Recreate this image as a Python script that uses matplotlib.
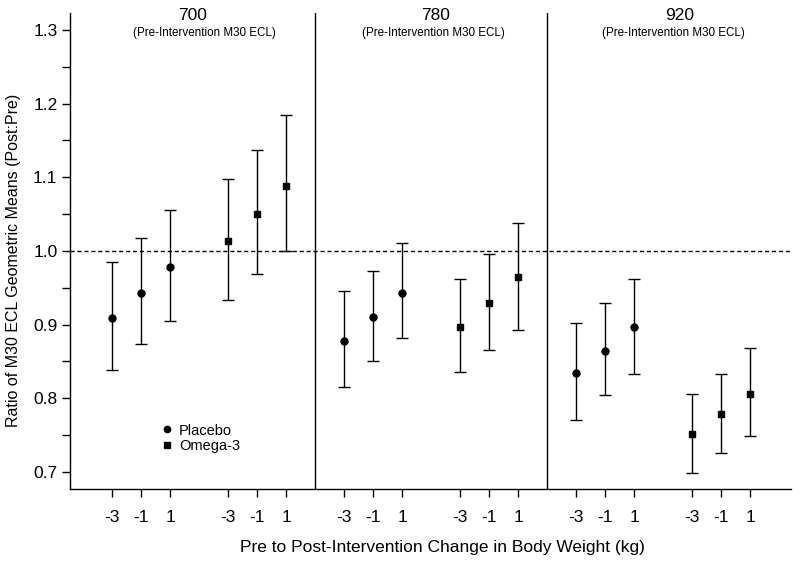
import numpy as np
import matplotlib.pyplot as plt
from matplotlib.lines import Line2D

plt.rcParams['font.family'] = ['Liberation Sans', 'DejaVu Sans']

# data
panels = ['700', '780', '920']
weight_change = ['-3', '-1', '1']

placebo_mean = [[0.909, 0.943, 0.978], [0.878, 0.910, 0.943], [0.834, 0.864, 0.896]]
placebo_low = [[0.838, 0.874, 0.905], [0.815, 0.851, 0.881], [0.770, 0.804, 0.833]]
placebo_high = [[0.985, 1.017, 1.055], [0.945, 0.973, 1.010], [0.902, 0.929, 0.962]]

omega_mean = [[1.013, 1.050, 1.088], [0.897, 0.929, 0.964], [0.751, 0.778, 0.806]]
omega_low = [[0.933, 0.969, 1.000], [0.835, 0.866, 0.893], [0.699, 0.726, 0.749]]
omega_high = [[1.098, 1.137, 1.185], [0.962, 0.996, 1.038], [0.805, 0.833, 0.868]]

fig = plt.figure(figsize=(8, 5.65), dpi=100)
ax = fig.add_axes([0.0875, 0.135, 0.9015, 0.842])

ticks = []
ticklabels = []
for p in range(3):
    base = p * 8
    xp = np.array([1, 2, 3]) + base
    xo = np.array([5, 6, 7]) + base
    pm = np.array(placebo_mean[p])
    om = np.array(omega_mean[p])
    ax.errorbar(xp, pm, yerr=[pm - np.array(placebo_low[p]), np.array(placebo_high[p]) - pm],
                fmt='o', color='black', ms=5, capsize=4, elinewidth=1, capthick=1)
    ax.errorbar(xo, om, yerr=[om - np.array(omega_low[p]), np.array(omega_high[p]) - om],
                fmt='s', color='black', ms=4.6, capsize=4, elinewidth=1, capthick=1)
    ticks += list(xp) + list(xo)
    ticklabels += weight_change * 2

# separators and reference line
ax.axvline(8, color='black', lw=1)
ax.axvline(16, color='black', lw=1)
ax.axhline(1.0, color='black', lw=1, linestyle=(0, (3, 2)))

# panel titles
title_x = [3.76, 12.14, 20.55]
sub_x = [4.17, 12.07, 20.34]
for i, name in enumerate(panels):
    ax.text(title_x[i], 1.320, name, ha='center', va='center', fontsize=12.5)
    ax.text(sub_x[i], 1.296, '(Pre-Intervention M30 ECL)', ha='center', va='center', fontsize=8.4)

ax.set_xlim(-0.45, 24.41)
ax.set_ylim(0.677, 1.323)
ax.set_xticks(ticks)
ax.set_xticklabels(ticklabels, fontsize=12.5)
ax.set_yticks([0.7, 0.8, 0.9, 1.0, 1.1, 1.2, 1.3])
ax.set_yticklabels(['0.7', '0.8', '0.9', '1.0', '1.1', '1.2', '1.3'], fontsize=12.5)
ax.set_yticks([0.75, 0.85, 0.95, 1.05, 1.15, 1.25], minor=True)
ax.tick_params(axis='both', which='both', direction='out', length=6, width=1)
ax.tick_params(axis='x', pad=9)
ax.tick_params(axis='y', pad=3)

for s in ['top', 'right']:
    ax.spines[s].set_visible(False)
ax.spines['left'].set_linewidth(1)
ax.spines['bottom'].set_linewidth(1)

ax.set_xlabel('Pre to Post-Intervention Change in Body Weight (kg)', fontsize=12.5, va='center')
ax.xaxis.set_label_coords(0.517, -0.124)
ax.set_ylabel('Ratio of M30 ECL Geometric Means (Post:Pre)', fontsize=11.5, va='center')
ax.yaxis.set_label_coords(-0.079, 0.479)

handles = [Line2D([], [], marker='o', color='black', ls='none', ms=4.5),
           Line2D([], [], marker='s', color='black', ls='none', ms=4.2)]
ax.legend(handles, ['Placebo', 'Omega-3'], loc='upper left', bbox_to_anchor=(0.127, 0.137),
          frameon=False, fontsize=10.5, handlelength=0.8, handletextpad=0.4,
          labelspacing=0.1, borderpad=0, borderaxespad=0)

fig.savefig('out.png', dpi=100)
